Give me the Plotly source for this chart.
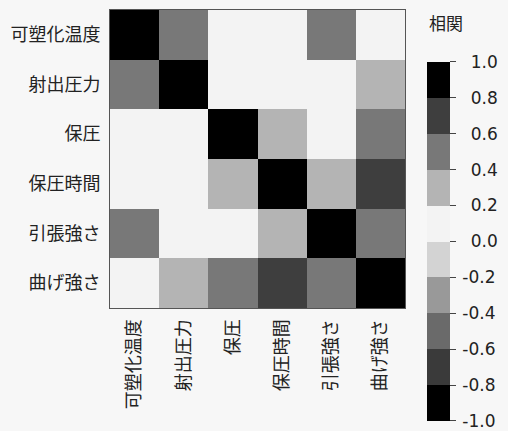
import plotly.graph_objects as go

labels = ["可塑化温度", "射出圧力", "保圧", "保圧時間", "引張強さ", "曲げ強さ"]

row_temp   = [1.00, 0.52, 0.05, 0.08, 0.48, 0.12]
row_inj    = [0.52, 1.00, 0.03, 0.10, 0.06, 0.31]
row_hold   = [0.05, 0.03, 1.00, 0.28, 0.04, 0.50]
row_htime  = [0.08, 0.10, 0.28, 1.00, 0.33, 0.68]
row_tens   = [0.48, 0.06, 0.04, 0.33, 1.00, 0.55]
row_bend   = [0.12, 0.31, 0.50, 0.68, 0.55, 1.00]
corr = [row_temp, row_inj, row_hold, row_htime, row_tens, row_bend]

tick_vals = [-1.0, -0.8, -0.6, -0.4, -0.2, 0.0, 0.2, 0.4, 0.6, 0.8, 1.0]
tick_text = ["-1.0", "-0.8", "-0.6", "-0.4", "-0.2", "0.0", "0.2", "0.4", "0.6", "0.8", "1.0"]
bin_colors = ["#000000", "#3a3a3a", "#6a6a6a", "#999999", "#d3d3d3",
              "#f3f3f3", "#b4b4b4", "#787878", "#3e3e3e", "#000000"]

# right-align colorbar labels (positive ones padded with an en space)
tick_disp = ["\u2009" + (t if t.startswith("-") else "\u2002" + t) for t in tick_text]

cs = []
for i, c in enumerate(bin_colors):
    cs.append([i / 10, c])
    cs.append([(i + 1) / 10, c])

W, H = 508, 431
L, R, T, B = 110, 99, 10, 121
ph = H - T - B

fig = go.Figure(go.Heatmap(
    z=corr, x=labels, y=labels,
    zmin=-1, zmax=1, colorscale=cs,
    colorbar=dict(
        x=(431 - L) / (W - L - R), xanchor="left",
        y=(H - B - 243) / ph, yanchor="middle",
        lenmode="pixels", len=359,
        thickness=23, outlinewidth=0,
        tickvals=tick_vals, ticktext=tick_disp,
        ticks="outside", ticklen=6, tickcolor="#444",
        tickfont=dict(family="DejaVu Sans", size=17, color="#222"),
        xpad=0, ypad=0,
    ),
    hoverongaps=False,
))

fig.add_annotation(text="相関", xref="paper", yref="paper",
                   x=(431 - L) / (W - L - R), y=(H - B - 23) / ph,
                   xanchor="left", yanchor="middle", showarrow=False,
                   font=dict(family="Noto Sans CJK JP", size=17, color="#222"))

fig.update_layout(
    width=W, height=H,
    margin=dict(l=L, r=R, t=T, b=B, pad=0),
    paper_bgcolor="#f7f7f7", plot_bgcolor="#f7f7f7",
    font=dict(family="Noto Sans CJK JP", size=18, color="#222"),
)
fig.update_xaxes(tickangle=-90, showline=True, mirror=True, linecolor="#555",
                 linewidth=1, showgrid=False, zeroline=False, ticks="",
                 ticklabelstandoff=3, tickfont=dict(size=18))
fig.update_yaxes(autorange="reversed", showline=True, mirror=True, linecolor="#555",
                 linewidth=1, showgrid=False, zeroline=False, ticks="",
                 ticklabelstandoff=5, tickfont=dict(size=18))

fig.write_html("out.html", config={"displayModeBar": False},
               post_script="document.body.style.margin='0';document.body.style.background='#f7f7f7';")
